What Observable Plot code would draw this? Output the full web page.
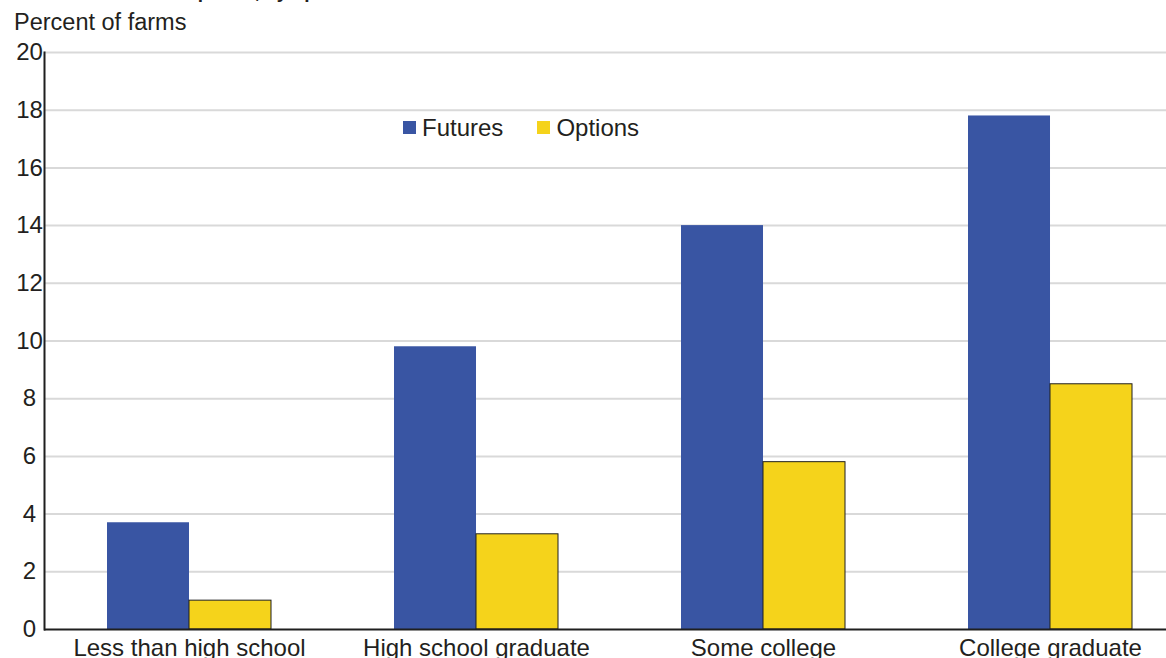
<!DOCTYPE html>
<html>
<head>
<meta charset="utf-8">
<script src="https://cdn.jsdelivr.net/npm/d3@7"></script>
<script src="https://cdn.jsdelivr.net/npm/@observablehq/plot@0.6"></script>
<style>
  html, body { margin: 0; padding: 0; background: #fff; overflow: hidden; }
  #wrap { position: relative; width: 1166px; height: 658px; overflow: hidden;
          font-family: "Liberation Sans", Arial, Helvetica, sans-serif; color: #231f20; }
  #title { position: absolute; left: 14px; top: -18px; font-size: 19px; line-height: 19px;
           font-weight: bold; white-space: nowrap; }
  #ylabel { position: absolute; left: 14px; top: 9px; font-size: 23.5px; line-height: 26px; white-space: nowrap; }
  #chart { position: absolute; left: 0; top: 0; }
  #chart svg { max-width: none !important; }
  #legend { position: absolute; left: 403px; top: 114px; height: 27px; display: flex; align-items: center;
            font-size: 24px; line-height: 27px; z-index: 2; }
  .item { display: flex; align-items: center; }
  .item + .item { margin-left: 34px; }
  .swatch { width: 13px; height: 13px; margin-right: 6px; }
</style>
</head>
<body>
<div id="wrap">
  <div id="title">Use of futures and options, by operator education</div>
  <div id="ylabel">Percent of farms</div>
  <div id="legend"></div>
  <div id="chart"></div>
</div>
<script>
// Share of farms using futures and options, by education of the operator
const education = ["Less than high school", "High school graduate", "Some college", "College graduate"];
const futures = [3.7, 9.8, 14.0, 17.8];
const options = [1.0, 3.3, 5.8, 8.5];
const seriesNames = ["Futures", "Options"];
const seriesColors = ["#3955A3", "#F5D31B"];
const yTicks = [0, 2, 4, 6, 8, 10, 12, 14, 16, 18, 20];

const rows = education.map((e, i) => ({education: e, futures: futures[i], options: options[i]}));

// Layout of the band scale: each education group holds two touching bars
const width = 1195, marginLeft = 44, marginRight = 0;
const padIn = 0.4286, padOut = 0.2195;
const half = d3.scaleBand(education, [marginLeft, width - marginRight])
  .paddingInner(padIn).paddingOuter(padOut).bandwidth() / 2;

const chart = Plot.plot({
  width,
  height: 674,
  marginTop: 52,
  marginBottom: 45,
  marginLeft,
  marginRight,
  style: {fontFamily: "Liberation Sans, Arial, Helvetica, sans-serif", color: "#231f20", maxWidth: "none", background: "transparent"},
  x: {type: "band", domain: education, paddingInner: padIn, paddingOuter: padOut},
  y: {domain: [0, 20]},
  marks: [
    Plot.ruleY(yTicks.filter(d => d > 0), {stroke: "#d9d9d9", strokeWidth: 2}),
    Plot.barY(rows, {x: "education", y: "futures", fill: seriesColors[0], insetRight: half}),
    Plot.barY(rows, {x: "education", y: "options", fill: seriesColors[1], stroke: "#1f1f1f", strokeWidth: 1, insetLeft: half}),
    Plot.ruleY([0], {stroke: "#1f1f1f", strokeWidth: 2}),
    Plot.frame({anchor: "left", stroke: "#1f1f1f", strokeWidth: 2}),
    Plot.axisY({ticks: yTicks, tickSize: 0, tickPadding: 15, textAnchor: "middle", fontSize: 24, label: null}),
    Plot.axisX({tickSize: 0, tickPadding: 9, fontSize: 24, label: null})
  ]
});
document.getElementById("chart").append(chart);

// Legend
const legend = d3.select("#legend");
seriesNames.forEach((name, i) => {
  const item = legend.append("div").attr("class", "item");
  item.append("div").attr("class", "swatch").style("background", seriesColors[i]);
  item.append("span").text(name);
});
</script>
</body>
</html>
